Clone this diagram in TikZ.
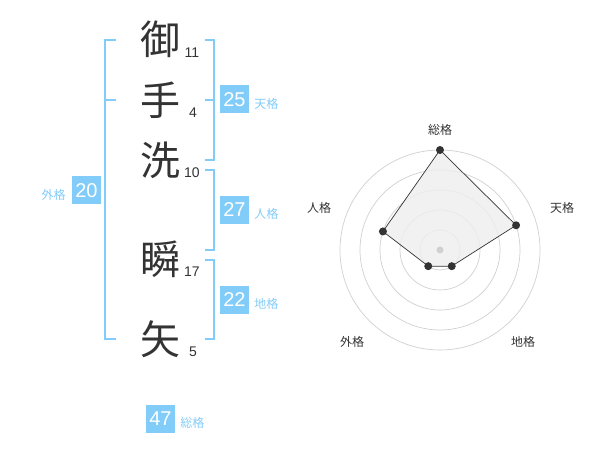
\documentclass[tikz,border=0pt]{standalone}
\usepackage{fontspec}
\setmainfont{Liberation Sans}
\newfontfamily\cjk{Noto Sans CJK JP}
\definecolor{sky}{RGB}{130,204,250}
\definecolor{dark}{RGB}{51,51,51}
\definecolor{ringc}{RGB}{208,208,208}
\definecolor{areac}{RGB}{238,238,238}
\begin{document}
\begin{tikzpicture}[x=1pt,y=-1pt,
 kanji/.style={font=\cjk\fontsize{40}{40}\selectfont, text=dark, inner sep=0pt, anchor=base},
 strokes/.style={font=\fontsize{14}{14}\selectfont, text=dark, inner sep=0pt, anchor=base},
 valbox/.style={fill=sky, text=white, minimum width=29pt, minimum height=28pt, inner sep=0pt, font=\fontsize{20}{20}\selectfont},
 vallabel/.style={text=sky, font=\cjk\fontsize{12}{12}\selectfont, inner sep=0pt},
 bracket/.style={draw=sky, line width=2pt},
 ring/.style={draw=ringc, line width=0.7pt},
 axlabel/.style={font=\cjk\fontsize{12}{12}\selectfont, text=dark, inner sep=0pt},
 dot/.style={circle, fill=dark, inner sep=0pt, minimum size=8pt}]
\useasboundingbox (0,0) rectangle (600,470);

% characters
\node[kanji] (k1) at (160,55) {御};
\node[kanji] (k2) at (160,116) {手};
\node[kanji] (k3) at (160,176) {洗};
\node[kanji] (k4) at (160,275) {瞬};
\node[kanji] (k5) at (160,355) {矢};
\node[strokes] (n1) at (192,58) {11};
\node[strokes] (n2) at (193,118) {4};
\node[strokes] (n3) at (192,178) {10};
\node[strokes] (n4) at (192,277) {17};
\node[strokes] (n5) at (193,357) {5};

% brackets
\draw[bracket] (116,40) -- (105,40) -- (105,339) -- (116,339);
\draw[bracket] (105,100) -- (116,100);
\draw[bracket] (205,40) -- (214,40) -- (214,160) -- (205,160);
\draw[bracket] (205,100) -- (214,100);
\draw[bracket] (205,170) -- (214,170) -- (214,250) -- (205,250);
\draw[bracket] (205,260) -- (214,260) -- (214,339) -- (205,339);

% value boxes
\node[valbox] (b25) at (234.5,99.5) {25};
\node[vallabel, anchor=west] (l25) at ([xshift=5pt,yshift=-4pt]b25.east) {天格};
\node[valbox] (b27) at (234.5,210) {27};
\node[vallabel, anchor=west] (l27) at ([xshift=5pt,yshift=-4pt]b27.east) {人格};
\node[valbox] (b22) at (234.5,300) {22};
\node[vallabel, anchor=west] (l22) at ([xshift=5pt,yshift=-4pt]b22.east) {地格};
\node[valbox] (b20) at (86.5,190.5) {20};
\node[vallabel, anchor=east] (l20) at ([xshift=-6pt,yshift=-4pt]b20.west) {外格};
\node[valbox] (b47) at (160.5,419) {47};
\node[vallabel, anchor=west] (l47) at ([xshift=5pt,yshift=-4pt]b47.east) {総格};

% radar chart
\begin{scope}[shift={(440,250)}, y=1pt]
  \foreach \r in {20,40,60,80,100} \draw[ring] (0,0) circle[radius=\r];
  \coordinate (ps) at (90:100);
  \coordinate (pt) at (18:80);
  \coordinate (pc) at (-54:20);
  \coordinate (pg) at (234:20);
  \coordinate (pj) at (162:60);
  \filldraw[fill=areac, fill opacity=0.85, draw=dark, line width=0.7pt] (ps) -- (pt) -- (pc) -- (pg) -- (pj) -- cycle;
  \fill[ringc] (0,0) circle[radius=3.5];
  \foreach \p in {ps,pt,pc,pg,pj} \node[dot] at (\p) {};
\end{scope}
\node[axlabel] (as) at (440,130) {総格};
\node[axlabel] (at) at (562,208) {天格};
\node[axlabel] (aj) at (319,208) {人格};
\node[axlabel] (ag) at (352,342) {外格};
\node[axlabel] (ac) at (523,342) {地格};
\end{tikzpicture}
\end{document}
